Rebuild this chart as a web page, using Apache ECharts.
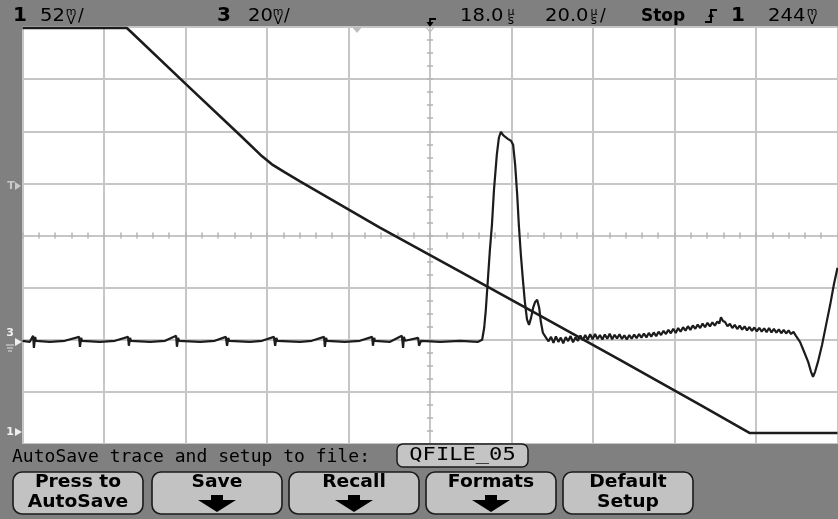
<!DOCTYPE html>
<html>
<head>
<meta charset="utf-8">
<script src="https://cdn.jsdelivr.net/npm/echarts@6/dist/echarts.min.js"></script>
<style>
  html, body { margin: 0; padding: 0; background: #808080; }
  #scope { width: 838px; height: 519px; }
</style>
</head>
<body>
<div id="scope"></div>
<script>
// Horizontal: 20 µs/div, 18.0 µs delay, 10 divisions
const timePerDiv = 20;
const timeDelay = 18;
// Channel scales (mV/div) and ground-marker positions (divisions from centre)
const ch1Scale = 52;
const ch1Ground = -3.77;
const ch3Scale = 20;
const ch3Ground = -2.04;

// Channel 1: ramp (time µs, mV)
const ch1Time = [-82.0, -56.4, -55.6, -41.9, -28.6, -23.2, -20.8, -17.6, -13.9, 5.7, 25.4, 45.0, 64.6, 84.3, 96.5, 118.0];
const ch1Mv   = [403, 403, 400, 347, 296, 275, 267, 259, 250, 204, 160, 116, 72, 27, -1, -1];

// Channel 3: pulse and ringing (time µs, mV)
const ch3Time = [
  -82.0, -80.2, -79.4, -79.2, -78.9, -78.7, -75.3, -71.6, -68.1, -67.9, -67.6, -67.4,
  -63.0, -59.3, -56.1, -55.9, -55.6, -55.4, -50.7, -47.0, -44.3, -44.1, -43.8, -43.6,
  -38.4, -34.8, -32.1, -31.8, -31.5, -31.3, -26.2, -23.2, -20.3, -20.0, -19.7, -19.5,
  -13.9, -11.0, -8.0, -7.8, -7.5, -7.3, -2.9, 0.8, 3.8, 4.0, 4.3, 4.5,
  8.2, 11.1, 11.4, 11.6, 11.9, 15.1, 15.3, 15.8, 20.5, 25.4, 29.8,
  30.8, 31.3, 31.7, 32.2, 32.7, 33.2, 33.7, 34.4, 34.9, 35.4,
  35.9, 36.4, 37.1, 37.9, 38.4, 38.9, 39.4, 39.8, 40.3, 40.8,
  41.3, 41.8, 42.3, 42.8, 43.3, 43.8, 44.3, 44.8, 45.2, 45.7,
  46.5, 47.1, 47.7, 48.3, 48.9, 49.5, 50.1, 50.7, 51.3, 51.9,
  52.5, 53.1, 53.7, 54.3, 54.9, 55.5, 56.1, 56.7, 57.3, 57.9,
  58.5, 59.1, 59.7, 60.3, 60.9, 61.5, 62.1, 62.7, 63.3, 63.9,
  64.5, 65.1, 65.7, 66.3, 66.9, 67.5, 68.1, 68.7, 69.3, 69.9,
  70.5, 71.1, 71.7, 72.3, 72.9, 73.5, 74.1, 74.7, 75.3, 75.9,
  76.5, 77.1, 77.7, 78.3, 78.9, 79.5, 80.1, 80.7, 81.3, 81.9,
  82.5, 83.1, 83.7, 84.3, 84.9, 85.5, 86.1, 86.7, 87.3, 87.9,
  88.5, 89.0, 89.4, 89.9, 90.4, 91.0, 91.6, 92.2, 92.8, 93.4,
  94.0, 94.6, 95.2, 95.8, 96.4, 97.0, 97.6, 98.2, 98.8, 99.4,
  100.0, 100.6, 101.2, 101.8, 102.4, 103.0, 103.6, 104.2, 104.8, 105.4,
  106.0, 106.6, 107.2, 107.8, 108.8, 109.8, 110.8, 111.5, 112.0, 112.5,
  113.2, 114.2, 115.2, 116.2, 117.1, 118.0
];
const ch3Mv = [
  0.4, 0, 2.3, -2.3, 1.9, 0.4, 0, 0.4, 1.9, -1.9, 1.5, 0.4,
  0, 0.4, 1.9, -1.5, 1.5, 0.4, 0, 0.4, 2.3, -1.9, 1.5, 0.4,
  0, 0.4, 1.9, -1.5, 1.5, 0.4, 0, 0.4, 1.9, -1.5, 1.5, 0.4,
  0, 0.4, 1.9, -1.9, 1.5, 0.4, 0, 0.4, 1.9, -1.5, 1.5, 0.4,
  0, 2.3, -2.3, 1.9, 0.4, 1.5, -1.5, 0.4, 0, 0.4, 0,
  0.8, 5.4, 12.3, 23.8, 35.3, 44.9, 58.3, 71.8, 78.3, 80.6,
  79.4, 78.7, 77.9, 77.1, 75.6, 67.9, 56.4, 44.9, 33.4, 23.8,
  15.0, 8.6, 6.5, 9.2, 13.0, 15.3, 16.1, 13.0, 7.7, 3.5,
  1.5, 0.2, 1.9, -0.4, 2.1, 0.0, 1.6, -0.6, 1.8, 0.3,
  2.2, -0.2, 1.7, 0.4, 2.4, 0.6, 2.6, 0.8, 2.9, 1.0,
  3.0, 1.1, 2.6, 0.9, 2.8, 1.2, 3.1, 1.0, 2.7, 1.3,
  2.9, 1.1, 2.5, 0.9, 2.6, 1.2, 2.8, 1.4, 3.0, 1.6,
  3.2, 1.7, 3.4, 2.0, 3.6, 2.2, 3.9, 2.6, 4.2, 3.0,
  4.6, 3.3, 5.0, 3.4, 5.3, 3.9, 5.6, 4.3, 6.0, 4.6,
  6.3, 5.0, 6.6, 5.3, 7.0, 5.6, 7.3, 5.9, 7.5, 6.2,
  7.8, 7.0, 9.4, 8.0, 7.6, 6.0, 6.9, 5.3, 6.5, 4.9,
  6.2, 4.7, 5.9, 4.4, 5.7, 4.2, 5.5, 4.0, 5.4, 3.9,
  5.2, 3.7, 5.3, 3.6, 5.0, 3.5, 4.8, 3.3, 4.6, 3.2,
  4.4, 3.0, 3.8, 2.3, 0, -3.8, -7.7, -11.5, -13.4, -11.5,
  -7.7, -1.2, 6.5, 14.2, 21.9, 28.4
];

const softkeyLabels = [
  ['Press to', 'AutoSave'],
  ['Save', null],
  ['Recall', null],
  ['Formats', null],
  ['Default', 'Setup']
];
const fileName = 'QFILE_05';
const promptText = 'AutoSave trace and setup to file:';

const tMin = timeDelay - 5 * timePerDiv;
const tMax = timeDelay + 5 * timePerDiv;
const ch1Min = (-4 - ch1Ground) * ch1Scale, ch1Max = (4 - ch1Ground) * ch1Scale;
const ch3Min = (-4 - ch3Ground) * ch3Scale, ch3Max = (4 - ch3Ground) * ch3Scale;

const GRID = '#c6c6c6';
const TRACE = '#1c1c1c';
const BG = '#808080';

function divAxisX(position, onZeroIdx, withSplit) {
  return {
    type: 'value', min: -5, max: 5, interval: 1, position: position,
    axisLine: { show: true, onZero: true, onZeroAxisIndex: onZeroIdx, lineStyle: { color: GRID, width: 1.5 } },
    axisTick: { show: true, length: 3, lineStyle: { color: '#b4b4b4', width: 1.5 } },
    minorTick: { show: true, splitNumber: 5, length: 3, lineStyle: { color: '#b4b4b4', width: 1.5 } },
    axisLabel: { show: false },
    splitLine: { show: withSplit, lineStyle: { color: GRID, width: 2 } }
  };
}
function divAxisY(position, onZeroIdx, withSplit) {
  return {
    type: 'value', min: -4, max: 4, interval: 1, position: position,
    axisLine: { show: true, onZero: true, onZeroAxisIndex: onZeroIdx, lineStyle: { color: GRID, width: 1.5 } },
    axisTick: { show: true, length: 3, lineStyle: { color: '#b4b4b4', width: 1.5 } },
    minorTick: { show: true, splitNumber: 4, length: 3, lineStyle: { color: '#b4b4b4', width: 1.5 } },
    axisLabel: { show: false },
    splitLine: { show: withSplit, lineStyle: { color: GRID, width: 2 } }
  };
}

const FONT = '"DejaVu Sans", sans-serif';
const MONO = '"DejaVu Sans Mono", monospace';

function txt(x, y, s, size, weight, color, align, family, sx) {
  const el = {
    type: 'text', x: x, y: y, z: 100, silent: true,
    style: { text: s, fill: color || '#000', font: (weight || 'normal') + ' ' + size + 'px ' + (family || FONT),
             textAlign: align || 'left', textVerticalAlign: 'middle' }
  };
  if (sx) { el.scaleX = sx; el.originX = 0; el.originY = 0; }
  return el;
}
// small stacked unit glyph, e.g. m over V
function unit(x, top, bottom) {
  return [
    txt(x + 6, 12, top, 11, 'normal', '#000', 'center'),
    txt(x + 6, 21, bottom, 12, 'normal', '#000', 'center')
  ];
}
function tri(points, fill, stroke) {
  return { type: 'polygon', z: 100, silent: true, shape: { points: points },
           style: stroke ? { fill: 'none', stroke: stroke, lineWidth: 1.2 } : { fill: fill } };
}
function poly(points, stroke, w) {
  return { type: 'polyline', z: 100, silent: true, shape: { points: points },
           style: { stroke: stroke, lineWidth: w || 1.5, fill: null } };
}

const graphics = [];
// frame bands
graphics.push({ type: 'rect', z: 90, silent: true, shape: { x: 0, y: 0, width: 838, height: 26 }, style: { fill: BG } });
graphics.push({ type: 'rect', z: 90, silent: true, shape: { x: 0, y: 0, width: 22, height: 519 }, style: { fill: BG } });
graphics.push({ type: 'rect', z: 90, silent: true, shape: { x: 0, y: 444, width: 838, height: 75 }, style: { fill: BG } });

// status line
const SX = 1.15;
graphics.push(txt(13, 16, '1', 20, 'bold'));
graphics.push(txt(40, 17, '52', 17, 'normal', '#000', 'left', FONT, SX));
graphics.push(...unit(65, 'm', 'V'));
graphics.push(txt(78, 17, '/', 17));
graphics.push(txt(217, 16, '3', 20, 'bold'));
graphics.push(txt(248, 17, '20', 17, 'normal', '#000', 'left', FONT, SX));
graphics.push(...unit(272, 'm', 'V'));
graphics.push(txt(284, 17, '/', 17));
graphics.push(poly([[436, 19], [430, 19], [430, 25]], '#000', 1.8));
graphics.push(tri([[426.5, 22], [433.5, 22], [430, 27]], '#000'));
graphics.push(txt(460, 17, '18.0', 17, 'normal', '#000', 'left', FONT, SX));
graphics.push(...unit(505, 'µ', 's'));
graphics.push(txt(545, 17, '20.0', 17, 'normal', '#000', 'left', FONT, SX));
graphics.push(...unit(588, 'µ', 's'));
graphics.push(txt(600, 17, '/', 17));
graphics.push(txt(641, 17, 'Stop', 17, 'bold'));
graphics.push(poly([[705, 22], [711, 22], [711, 10], [717, 10]], '#000', 2));
graphics.push(tri([[708, 17], [714, 17], [711, 12]], '#000'));
graphics.push(txt(731, 16, '1', 20, 'bold'));
graphics.push(txt(768, 17, '244', 17, 'normal', '#000', 'left', FONT, SX));
graphics.push(...unit(806, 'm', 'V'));

// reference markers
graphics.push(tri([[352, 27], [362, 27], [357, 33]], '#bdbdbd'));
graphics.push(tri([[426, 27], [434, 27], [430, 32]], null, '#bdbdbd'));
graphics.push(txt(11, 186, 'T', 11, 'bold', '#c8c8c8', 'center'));
graphics.push(tri([[15, 182], [21, 186], [15, 190]], '#c8c8c8'));
graphics.push(txt(10, 333, '3', 11, 'bold', '#f0f0f0', 'center'));
graphics.push(tri([[15, 338], [22, 342], [15, 346]], '#f0f0f0'));
graphics.push(poly([[6, 345], [14, 345]], '#e0e0e0', 1));
graphics.push(poly([[7, 348], [13, 348]], '#e0e0e0', 1));
graphics.push(poly([[8, 351], [12, 351]], '#e0e0e0', 1));
graphics.push(txt(10, 432, '1', 11, 'bold', '#f0f0f0', 'center'));
graphics.push(tri([[15, 428], [22, 432], [15, 436]], '#f0f0f0'));

// file prompt
graphics.push(txt(12, 458, promptText, 17, 'normal', '#000', 'left', MONO, 1.06));
graphics.push({ type: 'rect', z: 95, silent: true, shape: { x: 397, y: 444, width: 131, height: 23, r: 6 },
                style: { fill: '#c4c4c4', stroke: '#1a1a1a', lineWidth: 1.5 } });
graphics.push(txt(462.5, 456, fileName, 17, 'normal', '#000', 'center', MONO, 1.3));

// softkeys
const keyX = [13, 152, 289, 426, 563];
softkeyLabels.forEach(function (lab, i) {
  const x = keyX[i], w = 130, cx = x + w / 2;
  graphics.push({ type: 'rect', z: 95, silent: true, shape: { x: x, y: 472, width: w, height: 42, r: 9 },
                  style: { fill: '#c2c2c2', stroke: '#1a1a1a', lineWidth: 1.6 } });
  graphics.push(txt(cx, 483, lab[0], 17, 'bold', '#000', 'center', FONT, 1.1));
  if (lab[1]) {
    graphics.push(txt(cx, 503, lab[1], 17, 'bold', '#000', 'center', FONT, 1.1));
  } else {
    graphics.push(tri([[cx - 6, 495], [cx + 6, 495], [cx + 6, 500], [cx + 19, 500], [cx, 512], [cx - 19, 500], [cx - 6, 500]], '#000'));
  }
});

const chart = echarts.init(document.getElementById('scope'), null, { renderer: 'canvas' });
chart.setOption({
  animation: false,
  backgroundColor: BG,
  grid: { left: 22.5, right: 0.5, top: 27, bottom: 75, show: true, backgroundColor: '#ffffff', borderWidth: 0, containLabel: false },
  xAxis: [
    divAxisX('bottom', 0, true),
    divAxisX('top', 3, false),
    { type: 'value', min: tMin, max: tMax, show: false, axisLine: { onZero: false } }
  ],
  yAxis: [
    divAxisY('left', 0, true),
    { type: 'value', min: ch1Min, max: ch1Max, show: false, axisLine: { onZero: false } },
    { type: 'value', min: ch3Min, max: ch3Max, show: false, axisLine: { onZero: false } },
    divAxisY('right', 1, false)
  ],
  series: [
    {
      name: 'Channel 1', type: 'line', xAxisIndex: 2, yAxisIndex: 1,
      data: ch1Time.map(function (t, i) { return [t, ch1Mv[i]]; }),
      showSymbol: false, smooth: false, z: 5,
      lineStyle: { color: TRACE, width: 2.6 }
    },
    {
      name: 'Channel 3', type: 'line', xAxisIndex: 2, yAxisIndex: 2,
      data: ch3Time.map(function (t, i) { return [t, ch3Mv[i]]; }),
      showSymbol: false, smooth: false, z: 5,
      lineStyle: { color: TRACE, width: 2.2 }
    }
  ],
  graphic: graphics
});
</script>
</body>
</html>
